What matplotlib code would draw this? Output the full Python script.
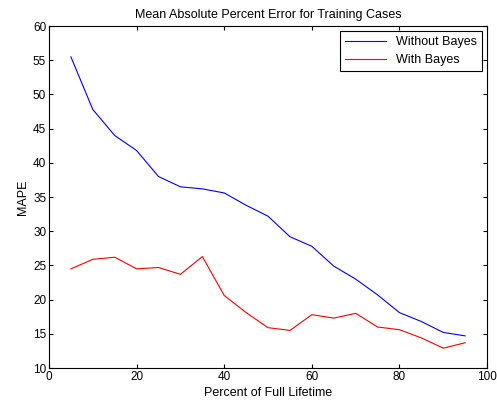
import matplotlib.pyplot as plt

plt.rcParams['font.family'] = 'Liberation Sans'
plt.rcParams['font.size'] = 8.5

pct = [5, 10, 15, 20, 25, 30, 35, 40, 45, 50, 55, 60, 65, 70, 75, 80, 85, 90, 95]
without_bayes = [55.5, 47.8, 44.0, 41.8, 38.0, 36.5, 36.2, 35.6, 33.8, 32.2, 29.2, 27.8,
                 24.9, 23.0, 20.7, 18.1, 16.8, 15.2, 14.7]
with_bayes = [24.5, 25.9, 26.2, 24.5, 24.7, 23.7, 26.3, 20.6, 18.1, 15.9, 15.5, 17.8,
              17.3, 18.0, 16.0, 15.6, 14.4, 12.9, 13.7]

fig = plt.figure(figsize=(4.97, 4.08), dpi=100)
ax = fig.add_axes([0.0986, 0.098, 0.8814, 0.838])

ax.plot(pct, without_bayes, color='blue', linewidth=0.8, label='Without Bayes')
ax.plot(pct, with_bayes, color='red', linewidth=0.8, label='With Bayes')

ax.set_xlim(0, 100)
ax.set_ylim(10, 60)
ax.set_xticks(range(0, 101, 20))
ax.set_yticks(range(10, 61, 5))
ax.tick_params(direction='in', top=True, right=True, length=3, width=0.8, pad=2)
for s in ax.spines.values():
    s.set_linewidth(0.8)

ax.set_title('Mean Absolute Percent Error for Training Cases', fontsize=9, pad=6)
ax.set_xlabel('Percent of Full Lifetime', fontsize=9, labelpad=3)
ax.set_ylabel('MAPE', fontsize=9, labelpad=3)

leg = ax.legend(loc='upper right', fancybox=False, edgecolor='black', framealpha=1,
                borderaxespad=0.4, handlelength=3.3, fontsize=9)
leg.get_frame().set_linewidth(0.8)

fig.savefig('out.png', dpi=100)
